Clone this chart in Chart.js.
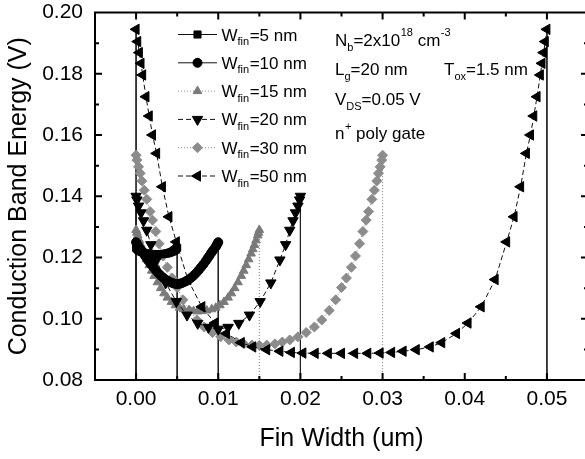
<!DOCTYPE html>
<html>
<head>
<meta charset="utf-8">
<script src="https://cdn.jsdelivr.net/npm/chart.js@4.4.1/dist/chart.umd.min.js"></script>
<style>
html,body{margin:0;padding:0;background:#fff;overflow:hidden;width:585px;height:459px}
#wrap{position:relative;width:588px;height:459px}
canvas{display:block}
</style>
</head>
<body>
<div id="wrap"><canvas id="c" width="588" height="459"></canvas></div>
<script>
// ---------- DATA (x in um, y in V) ----------
const w5x = [0, 0.0001, 0.0002, 0.0003, 0.0004, 0.0005, 0.0007, 0.0009, 0.0011, 0.0013, 0.0015, 0.0017, 0.0019, 0.0021, 0.0023, 0.0025, 0.0027, 0.0029, 0.0031, 0.0033, 0.0035, 0.0037, 0.0039, 0.0041, 0.0043, 0.0045, 0.0046, 0.0047, 0.0048, 0.0049, 0.0050];
const w5y = [0.1232, 0.1229, 0.1226, 0.1224, 0.1222, 0.1220, 0.1218, 0.1216, 0.1214, 0.1213, 0.1212, 0.1212, 0.1211, 0.1211, 0.1211, 0.1211, 0.1211, 0.1211, 0.1211, 0.1212, 0.1212, 0.1213, 0.1214, 0.1216, 0.1218, 0.1220, 0.1222, 0.1224, 0.1226, 0.1229, 0.1232];

const w10x = [0, 0.0001, 0.0002, 0.0003, 0.0005, 0.0007, 0.0009, 0.0011, 0.0013, 0.0015, 0.0018, 0.0021, 0.0024, 0.0027, 0.0030, 0.0033, 0.0036, 0.0039, 0.0042, 0.0045, 0.0048, 0.0050, 0.0052, 0.0055, 0.0058, 0.0061, 0.0064, 0.0067, 0.0070, 0.0073, 0.0076, 0.0079, 0.0082, 0.0085, 0.0087, 0.0089, 0.0091, 0.0093, 0.0095, 0.0097, 0.0098, 0.0099, 0.0100];
const w10y = [0.1250, 0.1245, 0.1240, 0.1235, 0.1228, 0.1221, 0.1213, 0.1205, 0.1197, 0.1189, 0.1178, 0.1168, 0.1158, 0.1149, 0.1141, 0.1134, 0.1128, 0.1123, 0.1119, 0.1116, 0.1114, 0.1113, 0.1114, 0.1116, 0.1119, 0.1123, 0.1128, 0.1134, 0.1141, 0.1149, 0.1158, 0.1168, 0.1178, 0.1189, 0.1197, 0.1205, 0.1213, 0.1221, 0.1228, 0.1235, 0.1240, 0.1245, 0.1250];

const w15x = [0, 0.0001, 0.0002, 0.0004, 0.0006, 0.0008, 0.0010, 0.0013, 0.0016, 0.0019, 0.0022, 0.0026, 0.0030, 0.0034, 0.0038, 0.0043, 0.0048, 0.0053, 0.0058, 0.0064, 0.0070, 0.0075, 0.0080, 0.0086, 0.0092, 0.0097, 0.0102, 0.0107, 0.0112, 0.0116, 0.0120, 0.0124, 0.0128, 0.0131, 0.0134, 0.0137, 0.0140, 0.0142, 0.0144, 0.0146, 0.0148, 0.0149, 0.0150];
const w15y = [0.1290, 0.1281, 0.1272, 0.1256, 0.1241, 0.1227, 0.1213, 0.1194, 0.1175, 0.1157, 0.1140, 0.1119, 0.1100, 0.1083, 0.1069, 0.1055, 0.1044, 0.1036, 0.1031, 0.1027, 0.1025, 0.1024, 0.1025, 0.1027, 0.1031, 0.1036, 0.1044, 0.1055, 0.1069, 0.1083, 0.1100, 0.1119, 0.1140, 0.1157, 0.1175, 0.1194, 0.1213, 0.1227, 0.1241, 0.1256, 0.1272, 0.1281, 0.1290];

const w20x = [0, 0.0001, 0.0003, 0.0006, 0.0009, 0.0013, 0.0018, 0.0025, 0.0036, 0.0049, 0.0062, 0.0075, 0.0088, 0.0100, 0.0112, 0.0125, 0.0138, 0.0151, 0.0164, 0.0175, 0.0182, 0.0187, 0.0191, 0.0194, 0.0197, 0.0199, 0.0200];
const w20y = [0.1400, 0.1388, 0.1368, 0.1346, 0.1320, 0.1289, 0.1242, 0.1192, 0.1117, 0.1056, 0.1012, 0.0985, 0.0972, 0.0966, 0.0972, 0.0985, 0.1012, 0.1056, 0.1117, 0.1192, 0.1242, 0.1289, 0.1320, 0.1346, 0.1368, 0.1388, 0.1400];

const w30x = [0, 0.0001, 0.0003, 0.0005, 0.0007, 0.0010, 0.0013, 0.0017, 0.0020, 0.0024, 0.0028, 0.0033, 0.0038, 0.0044, 0.0050, 0.0057, 0.0065, 0.0074, 0.0083, 0.0093, 0.0103, 0.0113, 0.0122, 0.0131, 0.0141, 0.0150, 0.0159, 0.0169, 0.0178, 0.0187, 0.0197, 0.0207, 0.0217, 0.0226, 0.0235, 0.0243, 0.0250, 0.0256, 0.0262, 0.0267, 0.0272, 0.0276, 0.0280, 0.0283, 0.0287, 0.0290, 0.0293, 0.0295, 0.0297, 0.0299, 0.0300];
const w30y = [0.1534, 0.1518, 0.1496, 0.1475, 0.1450, 0.1420, 0.1390, 0.1350, 0.1322, 0.1285, 0.1245, 0.1205, 0.1168, 0.1133, 0.1102, 0.1062, 0.1027, 0.0996, 0.0973, 0.0955, 0.0941, 0.0931, 0.0924, 0.0918, 0.0914, 0.0913, 0.0914, 0.0918, 0.0924, 0.0931, 0.0941, 0.0955, 0.0973, 0.0996, 0.1027, 0.1062, 0.1102, 0.1133, 0.1168, 0.1205, 0.1245, 0.1285, 0.1322, 0.1350, 0.1390, 0.1420, 0.1450, 0.1475, 0.1496, 0.1518, 0.1534];

const w50x = [0, 0.0002, 0.0004, 0.0006, 0.0008, 0.0012, 0.0016, 0.0020, 0.0025, 0.0032, 0.0040, 0.0049, 0.0063, 0.0080, 0.0096, 0.0110, 0.0128, 0.0142, 0.0159, 0.0175, 0.0189, 0.0203, 0.0218, 0.0234, 0.0250, 0.0266, 0.0282, 0.0297, 0.0311, 0.0325, 0.0341, 0.0358, 0.0372, 0.0390, 0.0404, 0.0420, 0.0437, 0.0451, 0.0460, 0.0468, 0.0475, 0.0480, 0.0484, 0.0488, 0.0492, 0.0494, 0.0496, 0.0498, 0.0500];
const w50y = [0.1945, 0.1905, 0.1869, 0.1834, 0.1796, 0.1725, 0.1662, 0.1600, 0.1540, 0.1431, 0.1333, 0.1251, 0.1128, 0.1039, 0.0986, 0.0952, 0.0922, 0.0908, 0.0899, 0.0894, 0.0890, 0.0888, 0.0887, 0.0887, 0.0887, 0.0887, 0.0887, 0.0888, 0.0890, 0.0894, 0.0899, 0.0908, 0.0922, 0.0952, 0.0986, 0.1039, 0.1128, 0.1251, 0.1333, 0.1431, 0.1540, 0.1600, 0.1662, 0.1725, 0.1796, 0.1834, 0.1869, 0.1905, 0.1945];

const seriesNames = ['5 nm', '10 nm', '15 nm', '20 nm', '30 nm', '50 nm'];
const seriesX = [w5x, w10x, w15x, w20x, w30x, w50x];
const seriesY = [w5y, w10y, w15y, w20y, w30y, w50y];
const xTickLabels = ['0.00', '0.01', '0.02', '0.03', '0.04', '0.05'];
const yTickLabels = ['0.08', '0.10', '0.12', '0.14', '0.16', '0.18', '0.20'];
const xTitle = 'Fin Width (um)';
const yTitle = 'Conduction Band Energy (V)';

// ---------- STYLE ----------
const FONT = "'Liberation Sans', Arial, Helvetica, sans-serif";
const X_MIN = -0.005, X_MAX = 0.055, Y_MIN = 0.08, Y_MAX = 0.20;
const styles = [
  {color: '#000', line: '#111', dash: [], ps: 'rect', rot: 0, r: 5, order: 7},
  {color: '#000', line: '#111', dash: [], ps: 'circle', rot: 0, r: 4.5, order: 6},
  {color: '#7a7a7a', line: '#8a8a8a', dash: [1, 2], ps: 'triangle', rot: 0, r: 5, order: 8},
  {color: '#000', line: '#111', dash: [5, 3], ps: 'triangle', rot: 180, r: 6, order: 5},
  {color: '#8c8c8c', line: '#8a8a8a', dash: [1, 2], ps: 'rectRot', rot: 0, r: 5, order: 9},
  {color: '#000', line: '#111', dash: [5, 3], ps: 'triangle', rot: -90, r: 6, order: 4}
];

const datasets = [];
seriesX.forEach((xs, i) => {
  const st = styles[i];
  const ys = seriesY[i];
  datasets.push({
    label: 'W_fin=' + seriesNames[i],
    data: xs.map((x, k) => ({x: x, y: ys[k]})),
    borderColor: st.line, borderWidth: 1, borderDash: st.dash,
    pointStyle: st.ps, rotation: st.rot, pointRadius: st.r,
    pointBackgroundColor: st.color, pointBorderColor: st.color, pointBorderWidth: 1,
    tension: 0, order: st.order
  });
  // drop lines from the curve ends to the x axis
  [0, xs.length - 1].forEach(k => {
    datasets.push({
      label: '',
      data: [{x: xs[k], y: ys[k]}, {x: xs[k], y: Y_MIN}],
      borderColor: st.dash.length && st.dash[0] === 1 ? '#777' : '#222',
      borderWidth: 1, borderDash: st.dash.length && st.dash[0] === 1 ? [1, 2] : [],
      pointRadius: 0, order: 20
    });
  });
});

function txt(ctx, s, x, y, size) {
  ctx.font = size + 'px ' + FONT;
  ctx.fillText(s, x, y);
  return x + ctx.measureText(s).width;
}

const framePlugin = {
  id: 'frame',
  afterDraw(chart) {
    const {ctx, chartArea: a, scales: {x, y}} = chart;
    ctx.save();
    ctx.strokeStyle = '#000'; ctx.lineWidth = 2; ctx.setLineDash([]);
    ctx.strokeRect(a.left, a.top, a.right - a.left, a.bottom - a.top);
    ctx.beginPath();
    x.ticks.forEach(t => {
      const v = t.value;
      if (v <= X_MIN + 1e-9 || v >= X_MAX - 1e-9) return;
      const p = x.getPixelForValue(v);
      const L = t.label ? 7 : 4;
      ctx.moveTo(p, a.bottom); ctx.lineTo(p, a.bottom - L);
      ctx.moveTo(p, a.top); ctx.lineTo(p, a.top + L);
    });
    y.ticks.forEach(t => {
      const v = t.value;
      if (v <= Y_MIN + 1e-9 || v >= Y_MAX - 1e-9) return;
      const p = y.getPixelForValue(v);
      const L = t.label ? 7 : 4;
      ctx.moveTo(a.left, p); ctx.lineTo(a.left + L, p);
      ctx.moveTo(a.right, p); ctx.lineTo(a.right - L, p);
    });
    ctx.stroke();
    ctx.restore();
  }
};

const legendPlugin = {
  id: 'customLegend',
  afterDraw(chart) {
    const ctx = chart.ctx;
    ctx.save();
    seriesNames.forEach((name, i) => {
      const st = styles[i];
      const cy = 34.5 + i * 28.3;
      ctx.strokeStyle = st.line; ctx.lineWidth = 1; ctx.setLineDash(st.dash);
      ctx.beginPath(); ctx.moveTo(178, cy); ctx.lineTo(217, cy); ctx.stroke();
      ctx.setLineDash([]);
      ctx.fillStyle = st.color; ctx.strokeStyle = st.color;
      Chart.helpers.drawPoint(ctx, {pointStyle: st.ps, rotation: st.rot, radius: st.r, borderWidth: 1}, 197.5, cy);
      ctx.fillStyle = '#000'; ctx.textAlign = 'left'; ctx.textBaseline = 'alphabetic';
      let xx = 221.5;
      xx = txt(ctx, 'W', xx, cy + 6, 17);
      xx = txt(ctx, 'fin', xx, cy + 10.5, 11);
      txt(ctx, '=' + name, xx + 0.5, cy + 6, 17);
    });
    // annotation block
    let xx = 335;
    xx = txt(ctx, 'N', xx, 46, 17);
    xx = txt(ctx, 'b', xx, 51, 11);
    xx = txt(ctx, '=2x10', xx, 46, 17);
    xx = txt(ctx, '18', xx + 0.5, 36, 11);
    xx = txt(ctx, ' cm', xx, 46, 17);
    txt(ctx, '-3', xx + 0.5, 36, 11);

    xx = 335;
    xx = txt(ctx, 'L', xx, 75, 17);
    xx = txt(ctx, 'g', xx, 80, 11);
    txt(ctx, '=20 nm', xx, 75, 17);
    xx = 444;
    xx = txt(ctx, 'T', xx, 75, 17);
    xx = txt(ctx, 'ox', xx, 80, 11);
    txt(ctx, '=1.5 nm', xx, 75, 17);

    xx = 335;
    xx = txt(ctx, 'V', xx, 105, 17);
    xx = txt(ctx, 'DS', xx, 110, 11);
    txt(ctx, '=0.05 V', xx, 105, 17);

    xx = 335;
    xx = txt(ctx, 'n', xx, 139, 17);
    xx = txt(ctx, '+', xx + 0.5, 130, 11);
    txt(ctx, ' poly gate', xx, 139, 17);
    ctx.restore();
  }
};

new Chart(document.getElementById('c'), {
  type: 'line',
  data: {datasets: datasets},
  options: {
    responsive: false, animation: false, devicePixelRatio: 1,
    layout: {autoPadding: false, padding: {top: 12.5, left: 0, right: 0, bottom: 0}},
    plugins: {legend: {display: false}, tooltip: {enabled: false}},
    scales: {
      x: {
        type: 'linear', min: X_MIN, max: X_MAX,
        grid: {display: false, drawTicks: false}, border: {display: false},
        ticks: {
          stepSize: 0.005, autoSkip: false, maxRotation: 0, padding: 7, color: '#000',
          font: {family: FONT, size: 21},
          callback: (v) => {
            const k = Math.round(v * 1000);
            if (k % 10 !== 0) return '';
            const idx = k / 10;
            return (idx >= 0 && idx < xTickLabels.length) ? xTickLabels[idx] : '';
          }
        },
        title: {display: true, text: xTitle, color: '#000', font: {family: FONT, size: 25}, padding: {top: 0, bottom: 5}},
        afterFit: (s) => { s.height = 79; s.paddingLeft = 0; s.paddingRight = 0; }
      },
      y: {
        type: 'linear', min: Y_MIN, max: Y_MAX,
        grid: {display: false, drawTicks: false}, border: {display: false},
        ticks: {
          stepSize: 0.01, autoSkip: false, padding: 12, color: '#000',
          font: {family: FONT, size: 21},
          callback: (v) => {
            const k = Math.round(v * 100);
            if (k % 2 !== 0) return '';
            const idx = (k - 8) / 2;
            return (idx >= 0 && idx < yTickLabels.length) ? yTickLabels[idx] : '';
          }
        },
        title: {display: true, text: yTitle, color: '#000', font: {family: FONT, size: 25}, padding: {top: 4, bottom: 0}},
        afterFit: (s) => { s.width = 95; s.paddingTop = 0; s.paddingBottom = 0; }
      }
    }
  },
  plugins: [framePlugin, legendPlugin]
});
</script>
</body>
</html>
